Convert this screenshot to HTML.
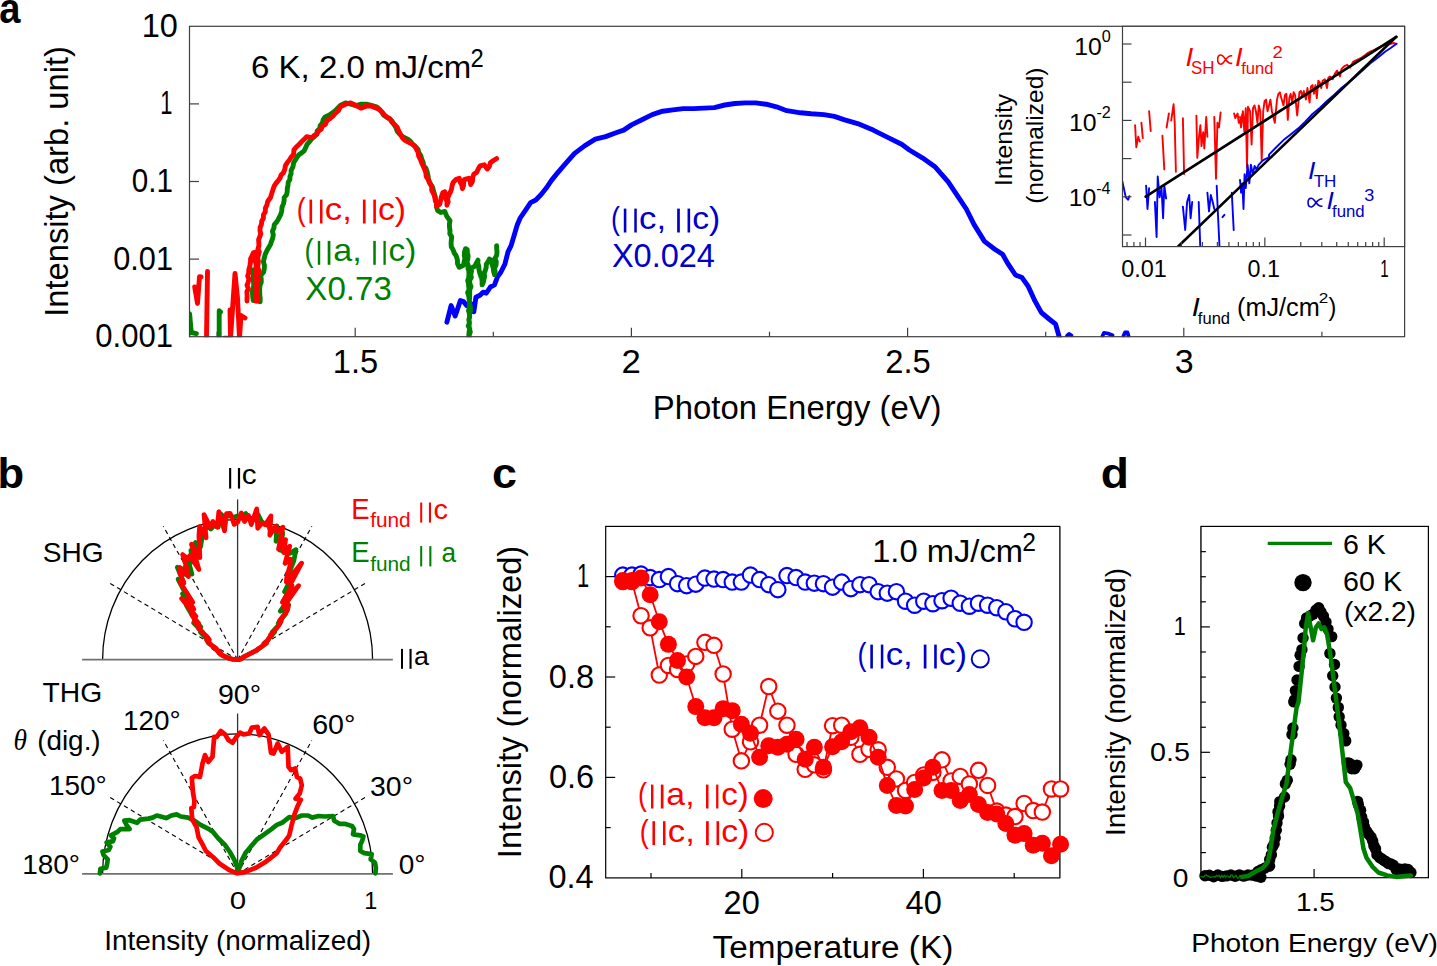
<!DOCTYPE html>
<html><head><meta charset="utf-8"><style>html,body{margin:0;padding:0;background:#fff;overflow:hidden}svg{display:block}text{font-family:"Liberation Sans", sans-serif}</style></head>
<body>
<svg width="1437" height="966" viewBox="0 0 1437 966" font-family='"Liberation Sans", sans-serif'>
<rect width="1437" height="966" fill="#fff"/>
<text x="-0.64" y="22.90" font-size="42" fill="#000" font-weight="bold" textLength="21.20" lengthAdjust="spacingAndGlyphs">a</text>
<clipPath id="ca"><rect x="189.5" y="26.3" width="1215.1" height="311.0"/></clipPath>
<g clip-path="url(#ca)">
<polyline points="194.7,287.0 197.5,303.4 199.5,276.7 201.0,277.0" fill="none" stroke="#ff0000" stroke-width="4.9" stroke-linejoin="round" stroke-linecap="round"/>
<polyline points="207.5,271.5 206.5,338.0" fill="none" stroke="#ff0000" stroke-width="4.9" stroke-linejoin="round" stroke-linecap="round"/>
<polyline points="230.0,310.0 230.5,338.0 235.0,273.5 237.5,298.0 239.5,338.0 241.0,315.5 245.0,318.0" fill="none" stroke="#ff0000" stroke-width="4.9" stroke-linejoin="round" stroke-linecap="round"/>
<polyline points="224.0,337.0 228.0,337.0" fill="none" stroke="#ff0000" stroke-width="2.5" stroke-linejoin="round" stroke-linecap="round"/>
<polyline points="187.8,338.0 189.6,313.7 191.3,332.5 196.4,333.6" fill="none" stroke="#008000" stroke-width="4.9" stroke-linejoin="round" stroke-linecap="round"/>
<polyline points="219.2,338.0 219.2,310.8 220.5,312.0" fill="none" stroke="#008000" stroke-width="4.9" stroke-linejoin="round" stroke-linecap="round"/>
<polyline points="446.9,322.2 451.1,305.6 455.2,316.0 460.4,300.5 463.5,301.5 466.6,305.6 470.7,303.6 473.8,311.8 475.9,297.3 480.0,295.3 483.1,292.2 486.3,293.2 490.4,287.0 494.5,284.9 497.6,276.6 500.7,272.5 504.9,264.2 508.0,251.8 511.1,245.6 514.2,235.2 517.3,224.8 520.2,218.0 525.4,210.3 530.6,202.6 535.8,200.0 540.9,194.8 546.1,188.3 551.3,180.6 556.5,174.1 564.2,165.1 574.6,153.4 584.9,145.6 595.3,139.2 605.6,136.6 616.0,132.7 623.7,130.1 631.5,124.9 641.9,119.8 652.2,114.6 662.6,111.2 672.9,109.9 683.3,108.6 693.6,108.6 704.0,108.1 714.3,107.6 724.7,105.0 735.0,103.5 745.4,102.9 755.7,102.9 766.1,104.2 776.4,106.8 786.8,110.7 800.7,112.8 811.1,113.8 824.0,114.6 834.3,116.4 844.7,119.8 857.6,123.6 873.2,130.1 888.7,137.9 901.6,144.3 909.4,150.0 922.3,157.8 935.3,167.1 948.2,181.9 961.2,201.3 966.3,209.0 974.1,224.6 984.5,241.4 994.8,249.2 1002.6,254.3 1007.7,263.4 1015.5,275.0 1022.0,277.6 1028.4,286.7 1034.9,300.9 1041.4,312.6 1049.1,319.0 1055.6,324.2 1059.5,338.0" fill="none" stroke="#0000ff" stroke-width="4.9" stroke-linejoin="round" stroke-linecap="round"/>
<polyline points="252.7,269.8 253.2,272.9 253.5,275.9 253.1,279.0 253.6,282.1 253.8,285.2 253.2,288.3 252.4,291.4 252.6,294.5 252.8,297.5 253.3,300.6 256.8,300.7 260.1,301.7 260.2,298.4 259.8,295.1 259.7,291.9 259.7,288.6 260.0,285.3 261.3,282.1 261.2,278.8 260.7,275.5 263.6,272.1 264.3,268.7 264.4,265.3 263.4,261.9 264.1,258.5 265.2,254.4 267.0,250.5 268.7,247.6 270.4,244.6 271.5,241.4 272.7,238.1 273.3,234.8 272.4,231.2 273.9,228.0 274.3,224.6 276.5,222.2 278.2,219.4 280.8,214.3 281.7,210.8 282.0,207.2 283.4,203.9 284.1,200.8 284.2,197.5 286.5,194.8 287.2,191.7 287.3,188.4 288.0,185.4 288.2,182.3 289.9,179.5 290.0,176.4 291.1,173.5 291.1,170.3 293.0,166.6 293.7,162.5 295.4,159.9 297.0,157.2 298.9,154.7 301.6,152.9 304.1,150.8 305.7,147.7 307.0,144.5 309.3,141.8 311.6,139.0 314.4,136.6 316.6,134.3 317.2,130.9 319.6,128.8 320.2,125.6 322.4,123.1 323.1,119.9 324.8,117.2 330.0,114.6 332.6,112.7 335.2,110.7 337.7,108.1 340.3,105.5 345.5,102.9 350.7,104.2 355.9,105.5 361.0,104.2 366.2,104.2 371.4,105.5 376.6,106.8 379.4,109.2 381.8,112.0 383.7,115.2 386.9,117.2 389.8,118.7 392.1,121.1 394.0,124.5 396.0,127.7 397.3,131.4 399.7,134.2 402.5,136.6 407.7,139.2 410.5,141.5 412.8,144.4 415.6,146.8 418.0,149.5 418.9,152.9 420.9,155.9 421.8,159.3 423.2,162.5 423.6,165.8 426.0,168.5 427.1,171.5 427.8,174.7 428.4,178.0 429.2,181.4 430.8,184.6 432.7,187.6 433.5,191.0 434.5,194.2 435.4,197.3 435.6,200.7 437.0,203.8 436.6,207.2 437.6,210.4 440.7,212.5 444.8,211.4 446.9,216.6 450.0,220.7 449.4,224.0 449.5,227.3 450.0,230.5 449.8,233.8 451.7,236.9 451.3,240.2 451.1,243.5 451.3,246.9 453.1,249.7 454.2,253.0 456.2,255.9 457.4,259.7 457.5,263.7 459.3,267.3 463.5,265.3 464.1,262.0 464.9,258.7 464.3,255.3 464.5,252.0 465.5,248.7 467.2,249.7 467.4,252.8 468.1,255.9 467.8,259.0 466.9,262.2 468.2,265.3 468.0,268.4 468.9,271.4 468.9,274.4 468.8,277.5 467.7,280.5 468.5,283.5 468.7,286.5 469.1,289.6 467.6,292.6 468.6,295.6 469.1,298.7 469.4,301.7 469.5,304.7 469.3,307.7 468.5,310.8 469.5,313.8 469.7,316.8 469.0,319.8 469.5,322.9 468.2,325.9 469.8,328.9 469.1,331.9 468.8,335.0 469.3,338.0 469.2,335.0 470.3,332.0 469.4,328.9 469.1,325.9 469.4,322.9 468.8,319.8 469.6,316.8 469.3,313.8 470.5,310.8 470.5,307.8 470.0,304.7 469.2,301.7 469.6,298.7 469.7,295.6 469.7,292.6 469.8,289.6 471.0,286.6 469.8,283.5 469.6,280.5 471.3,277.5 470.7,274.5 471.5,271.4 470.7,268.4 474.9,266.3 476.3,263.1 478.0,260.1 477.8,263.3 478.8,266.3 479.0,269.5 479.6,272.6 480.6,275.6 481.8,278.6 482.1,281.7 482.1,284.9 483.4,282.1 484.0,279.1 484.6,276.2 484.2,273.0 485.4,270.2 486.2,267.3 486.3,264.2 488.1,261.7 489.4,259.0 492.0,261.0 492.1,264.5 493.2,267.8 493.6,271.3 494.5,274.6 495.1,271.4 494.6,268.1 496.0,265.0 496.3,261.8 494.9,258.4 496.7,255.3 497.0,252.1 496.7,248.8 496.6,245.6" fill="none" stroke="#008000" stroke-width="4.9" stroke-linejoin="round" stroke-linecap="round"/>
<polyline points="247.0,301.0 247.1,297.9 247.1,294.7 246.9,291.6 248.4,288.6 247.0,285.3 248.1,282.3 249.0,279.2 247.7,276.0 248.7,272.9 248.8,269.8 249.9,265.9 250.5,262.0 250.6,258.7 252.2,255.8 253.3,252.8 255.5,252.0 255.2,255.1 255.6,258.1 255.2,261.2 256.2,264.2 256.1,267.3 256.4,270.4 255.7,273.4 255.0,276.5 255.6,279.6 255.3,282.6 256.1,285.7 255.4,288.8 256.6,291.8 256.3,294.9 255.7,297.9 256.0,301.0 257.5,301.0 258.0,297.9 257.5,294.9 257.0,291.8 257.4,288.7 257.3,285.6 257.5,282.6 258.5,279.5 257.5,276.4 258.8,273.4 258.9,270.3 257.5,267.2 258.1,264.2 258.4,261.1 257.6,258.0 258.4,255.0 259.3,251.9 258.0,248.8 258.9,245.8 258.8,242.7 258.6,239.6 259.8,236.7 260.8,233.8 260.0,230.6 260.1,227.5 261.4,224.6 261.7,221.2 263.4,218.2 263.5,214.7 265.3,211.7 265.4,208.1 267.0,204.8 267.8,201.3 270.4,197.8 271.7,193.6 272.9,189.7 274.3,185.8 276.1,183.1 278.2,180.6 280.1,178.1 281.1,175.0 283.4,172.8 284.8,169.4 285.4,165.7 287.3,162.5 289.4,160.0 291.1,157.3 293.6,154.2 293.9,150.1 296.3,147.0 299.0,144.5 301.5,141.8 304.2,139.3 306.7,136.6 311.9,137.9 314.1,135.4 317.0,134.0 318.4,131.2 321.2,129.3 322.2,126.2 325.4,124.3 326.9,120.6 330.0,118.5 332.9,116.2 335.2,113.3 338.4,110.6 340.3,106.8 345.5,104.2 350.7,102.9 355.9,105.5 361.0,108.1 366.2,106.1 371.4,106.1 376.6,108.1 379.5,109.7 381.8,112.0 384.2,114.7 386.9,117.2 390.1,119.2 392.1,122.4 394.9,124.8 397.3,127.5 398.8,131.1 400.6,134.5 402.5,137.9 404.8,140.2 407.7,141.8 412.8,144.4 415.1,146.6 416.5,149.4 418.0,152.1 418.7,156.2 420.6,159.9 421.8,163.2 423.3,166.3 424.7,169.5 425.8,172.8 426.3,176.6 428.3,179.8 429.7,183.2 431.8,186.4 431.7,190.3 433.5,193.6 434.6,196.7 435.2,199.9 436.3,203.0 436.6,206.3 439.7,204.2 440.6,200.4 441.5,196.5 442.8,192.8 444.8,191.8 446.1,195.0 445.6,198.5 447.1,201.7 446.9,205.2 448.1,201.9 447.5,198.2 449.0,194.9 450.5,191.9 451.6,188.8 452.1,185.5 453.1,182.4 456.2,179.3 459.3,178.3 460.0,181.9 461.8,185.1 462.4,188.7 463.5,185.7 463.7,182.4 464.5,179.3 468.7,178.3 470.2,181.3 470.7,184.5 472.5,181.3 472.6,177.6 473.8,174.2 476.9,172.1 478.2,168.9 480.0,165.9 484.2,164.8 487.3,169.0 489.4,166.2 490.4,162.8 493.4,160.5 496.6,158.6" fill="none" stroke="#ff0000" stroke-width="4.9" stroke-linejoin="round" stroke-linecap="round"/>
<polyline points="1067.0,335.5 1069.0,333.8 1071.5,335.5" fill="none" stroke="#0000ff" stroke-width="3.6" stroke-linejoin="round" stroke-linecap="round"/>
<polyline points="1102.5,336.0 1104.0,332.8 1108.0,333.5 1112.5,335.2" fill="none" stroke="#0000ff" stroke-width="3.8" stroke-linejoin="round" stroke-linecap="round"/>
<polyline points="1123.5,336.0 1125.0,332.5 1127.5,332.5 1128.5,336.0" fill="none" stroke="#0000ff" stroke-width="3.8" stroke-linejoin="round" stroke-linecap="round"/>
</g>
<rect x="189.5" y="26.3" width="1215.1" height="310.4" fill="none" stroke="#404040" stroke-width="1.2"/>
<line x1="189.50" y1="103.90" x2="199.00" y2="103.90" stroke="#404040" stroke-width="1.2"/>
<line x1="189.50" y1="181.50" x2="199.00" y2="181.50" stroke="#404040" stroke-width="1.2"/>
<line x1="189.50" y1="259.10" x2="199.00" y2="259.10" stroke="#404040" stroke-width="1.2"/>
<line x1="355.20" y1="336.70" x2="355.20" y2="327.70" stroke="#404040" stroke-width="1.2"/>
<line x1="631.40" y1="336.70" x2="631.40" y2="327.70" stroke="#404040" stroke-width="1.2"/>
<line x1="907.60" y1="336.70" x2="907.60" y2="327.70" stroke="#404040" stroke-width="1.2"/>
<line x1="1183.80" y1="336.70" x2="1183.80" y2="327.70" stroke="#404040" stroke-width="1.2"/>
<line x1="217.10" y1="336.70" x2="217.10" y2="331.70" stroke="#404040" stroke-width="1.2"/>
<line x1="493.30" y1="336.70" x2="493.30" y2="331.70" stroke="#404040" stroke-width="1.2"/>
<line x1="769.50" y1="336.70" x2="769.50" y2="331.70" stroke="#404040" stroke-width="1.2"/>
<line x1="1045.70" y1="336.70" x2="1045.70" y2="331.70" stroke="#404040" stroke-width="1.2"/>
<line x1="1321.90" y1="336.70" x2="1321.90" y2="331.70" stroke="#404040" stroke-width="1.2"/>
<text x="141.77" y="36.70" font-size="32.5" fill="#000" textLength="36.11" lengthAdjust="spacingAndGlyphs">10</text>
<text x="160.36" y="114.30" font-size="32.5" fill="#000" textLength="12.16" lengthAdjust="spacingAndGlyphs">1</text>
<text x="131.72" y="191.90" font-size="32.5" fill="#000" textLength="41.17" lengthAdjust="spacingAndGlyphs">0.1</text>
<text x="113.27" y="269.50" font-size="32.5" fill="#000" textLength="59.70" lengthAdjust="spacingAndGlyphs">0.01</text>
<text x="95.36" y="347.10" font-size="32.5" fill="#000" textLength="77.67" lengthAdjust="spacingAndGlyphs">0.001</text>
<text x="332.75" y="373.40" font-size="32.5" fill="#000" textLength="45.36" lengthAdjust="spacingAndGlyphs">1.5</text>
<text x="621.46" y="373.40" font-size="32.5" fill="#000" textLength="19.31" lengthAdjust="spacingAndGlyphs">2</text>
<text x="885.26" y="373.40" font-size="32.5" fill="#000" textLength="45.55" lengthAdjust="spacingAndGlyphs">2.5</text>
<text x="1174.74" y="373.40" font-size="32.5" fill="#000" textLength="18.93" lengthAdjust="spacingAndGlyphs">3</text>
<text x="652.87" y="419.00" font-size="32.4" fill="#000" textLength="288.70" lengthAdjust="spacingAndGlyphs">Photon Energy (eV)</text>
<text x="0" y="0" transform="translate(68.10,316.84) rotate(-90)" font-size="33" fill="#000" textLength="270.75" lengthAdjust="spacingAndGlyphs">Intensity (arb. unit)</text>
<text x="251.05" y="78.00" font-size="31.8" fill="#000" textLength="220.11" lengthAdjust="spacingAndGlyphs">6 K, 2.0 mJ/cm</text>
<text x="470.41" y="67.10" font-size="25.5" fill="#000" textLength="13.20" lengthAdjust="spacingAndGlyphs">2</text>
<text x="296.79" y="220.00" font-size="31.8" fill="#ff0000" textLength="8.92" lengthAdjust="spacingAndGlyphs">(</text>
<rect x="309.50" y="199.60" width="2.60" height="23.90" fill="#ff0000"/>
<rect x="320.00" y="199.60" width="2.50" height="23.90" fill="#ff0000"/>
<text x="324.84" y="220.00" font-size="31.8" fill="#ff0000" textLength="27.01" lengthAdjust="spacingAndGlyphs">c,</text>
<rect x="362.90" y="199.60" width="2.70" height="23.90" fill="#ff0000"/>
<rect x="373.30" y="199.60" width="2.60" height="23.90" fill="#ff0000"/>
<text x="377.99" y="220.00" font-size="31.8" fill="#ff0000" textLength="28.04" lengthAdjust="spacingAndGlyphs">c)</text>
<text x="304.58" y="261.30" font-size="31.8" fill="#008000" textLength="9.00" lengthAdjust="spacingAndGlyphs">(</text>
<rect x="317.80" y="240.90" width="2.42" height="23.90" fill="#008000"/>
<rect x="327.68" y="240.90" width="2.72" height="23.90" fill="#008000"/>
<text x="333.30" y="261.30" font-size="31.8" fill="#008000" textLength="28.47" lengthAdjust="spacingAndGlyphs">a,</text>
<rect x="373.26" y="240.90" width="2.52" height="23.90" fill="#008000"/>
<rect x="383.44" y="240.90" width="2.32" height="23.90" fill="#008000"/>
<text x="388.60" y="261.30" font-size="31.8" fill="#008000" textLength="27.69" lengthAdjust="spacingAndGlyphs">c)</text>
<text x="305.37" y="300.20" font-size="32.5" fill="#008000" textLength="86.53" lengthAdjust="spacingAndGlyphs">X0.73</text>
<text x="611.09" y="229.00" font-size="31.8" fill="#0000c8" textLength="8.91" lengthAdjust="spacingAndGlyphs">(</text>
<rect x="623.79" y="208.60" width="2.60" height="23.90" fill="#0000c8"/>
<rect x="634.28" y="208.60" width="2.50" height="23.90" fill="#0000c8"/>
<text x="639.11" y="229.00" font-size="31.8" fill="#0000c8" textLength="26.99" lengthAdjust="spacingAndGlyphs">c,</text>
<rect x="677.14" y="208.60" width="2.70" height="23.90" fill="#0000c8"/>
<rect x="687.53" y="208.60" width="2.60" height="23.90" fill="#0000c8"/>
<text x="692.21" y="229.00" font-size="31.8" fill="#0000c8" textLength="28.01" lengthAdjust="spacingAndGlyphs">c)</text>
<text x="611.89" y="267.40" font-size="32.5" fill="#0000c8" textLength="103.07" lengthAdjust="spacingAndGlyphs">X0.024</text>
<rect x="1122.5" y="26.3" width="282.0999999999999" height="220.29999999999998" fill="#fff" stroke="none"/>
<clipPath id="ci"><rect x="1122.5" y="26.3" width="282.0999999999999" height="220.29999999999998"/></clipPath>
<g clip-path="url(#ci)">
<polyline points="1135.1,125.2 1136.3,147.3 1138.2,136.8 1139.8,141.5" fill="none" stroke="#ff0000" stroke-width="1.9" stroke-linejoin="round" stroke-linecap="round"/>
<polyline points="1141.4,122.8 1142.8,138.0" fill="none" stroke="#ff0000" stroke-width="1.9" stroke-linejoin="round" stroke-linecap="round"/>
<polyline points="1149.1,111.2 1150.7,131.0" fill="none" stroke="#ff0000" stroke-width="1.9" stroke-linejoin="round" stroke-linecap="round"/>
<polyline points="1162.4,135.6 1164.3,169.4" fill="none" stroke="#ff0000" stroke-width="1.9" stroke-linejoin="round" stroke-linecap="round"/>
<polyline points="1166.6,127.5 1168.9,113.5" fill="none" stroke="#ff0000" stroke-width="1.9" stroke-linejoin="round" stroke-linecap="round"/>
<polyline points="1171.2,120.5 1173.6,104.2 1174.7,122.8 1175.9,171.8" fill="none" stroke="#ff0000" stroke-width="1.9" stroke-linejoin="round" stroke-linecap="round"/>
<polyline points="1182.9,118.2 1184.1,174.1" fill="none" stroke="#ff0000" stroke-width="1.9" stroke-linejoin="round" stroke-linecap="round"/>
<polyline points="1196.4,115.8 1197.3,157.8 1199.2,134.5 1200.4,125.2 1201.5,146.1 1203.2,132.2 1204.3,148.5 1206.2,117.0 1207.4,136.8" fill="none" stroke="#ff0000" stroke-width="1.9" stroke-linejoin="round" stroke-linecap="round"/>
<polyline points="1214.3,117.0 1216.0,178.7 1217.4,122.8 1219.0,127.5 1220.6,112.4" fill="none" stroke="#ff0000" stroke-width="1.9" stroke-linejoin="round" stroke-linecap="round"/>
<polyline points="1234.1,113.5 1235.3,118.2 1237.6,113.5 1238.8,122.8 1240.0,120.5 1241.1,127.5 1242.3,114.7" fill="none" stroke="#ff0000" stroke-width="1.9" stroke-linejoin="round" stroke-linecap="round"/>
<polyline points="1240.0,117.0 1241.4,122.8 1242.9,111.2 1244.3,131.4 1245.8,108.3 1247.0,167.7 1248.0,106.8 1250.1,111.2 1251.6,144.5 1253.0,108.3 1254.5,105.4 1255.9,111.2 1257.4,122.8 1258.8,105.4 1260.3,111.2 1261.7,160.4 1263.2,111.2 1264.6,101.0 1266.1,99.6 1267.5,111.2 1269.0,105.4 1270.4,99.6 1271.9,111.2 1274.8,122.8 1277.0,99.6 1278.4,93.8 1279.9,92.3 1281.3,98.1 1283.5,105.4 1284.9,95.2 1286.4,93.8 1287.8,119.9 1289.3,98.1 1290.7,93.8 1292.2,102.5 1293.6,92.3 1295.1,95.2 1297.2,115.5 1299.4,92.3 1300.9,90.9 1302.3,96.7 1303.8,90.9 1305.9,99.6 1307.4,88.0 1309.6,102.5 1311.0,86.5 1312.5,85.1 1313.9,93.8 1315.4,85.1 1316.8,98.1 1318.3,80.7 1319.7,82.2 1321.2,88.0 1322.6,80.7 1324.8,79.3 1327.0,88.0 1328.4,77.8 1329.9,76.4 1332.8,79.3 1334.9,73.5 1337.1,70.6 1340.0,76.4 1341.4,69.1 1344.3,66.2 1347.2,64.8 1350.1,67.7 1353.0,61.9 1355.9,60.4 1358.8,59.0 1361.7,57.5 1364.6,55.4 1367.5,53.2 1370.4,51.7 1373.3,50.3 1376.2,48.8 1379.1,47.4 1382.0,45.9 1384.9,45.2 1387.8,44.5 1390.7,43.8 1393.6,43.0 1396.5,43.8" fill="none" stroke="#ff0000" stroke-width="1.9" stroke-linejoin="round" stroke-linecap="round"/>
<polyline points="1122.3,181.1 1125.8,197.4 1128.2,199.7 1129.3,196.2" fill="none" stroke="#0000ff" stroke-width="1.9" stroke-linejoin="round" stroke-linecap="round"/>
<polyline points="1146.1,185.7 1147.5,209.0 1149.1,188.1" fill="none" stroke="#0000ff" stroke-width="1.9" stroke-linejoin="round" stroke-linecap="round"/>
<polyline points="1154.9,202.0 1156.6,237.0 1157.7,176.4 1159.6,197.4 1161.5,188.1 1163.1,218.3 1164.3,185.7 1166.1,198.5" fill="none" stroke="#0000ff" stroke-width="1.9" stroke-linejoin="round" stroke-linecap="round"/>
<polyline points="1182.9,206.7 1185.2,230.0 1187.1,202.0 1189.2,195.0 1190.6,218.3 1192.2,202.0" fill="none" stroke="#0000ff" stroke-width="1.9" stroke-linejoin="round" stroke-linecap="round"/>
<polyline points="1198.7,202.0 1200.4,250.9" fill="none" stroke="#0000ff" stroke-width="1.9" stroke-linejoin="round" stroke-linecap="round"/>
<polyline points="1207.4,192.7 1209.0,211.3 1210.8,195.0 1212.7,202.0 1214.3,209.0" fill="none" stroke="#0000ff" stroke-width="1.9" stroke-linejoin="round" stroke-linecap="round"/>
<polyline points="1216.7,185.7 1217.8,211.3 1219.7,250.9" fill="none" stroke="#0000ff" stroke-width="1.9" stroke-linejoin="round" stroke-linecap="round"/>
<polyline points="1222.5,217.2 1224.4,214.8" fill="none" stroke="#0000ff" stroke-width="1.9" stroke-linejoin="round" stroke-linecap="round"/>
<polyline points="1231.8,192.7 1233.7,230.0" fill="none" stroke="#0000ff" stroke-width="1.9" stroke-linejoin="round" stroke-linecap="round"/>
<polyline points="1240.0,179.9 1241.1,192.7 1242.3,183.4 1243.5,209.0 1244.6,174.1 1245.8,188.1 1247.6,164.8 1249.3,183.4 1250.9,164.8 1252.8,174.1 1254.6,165.9 1256.3,169.4 1258.6,164.8 1260.9,162.4 1263.3,160.1 1265.6,158.9 1267.9,157.8 1269.1,156.6 1269.0,154.6 1276.0,147.5 1283.5,140.1 1290.0,134.9 1298.0,128.6 1305.0,121.9 1312.5,114.0 1320.0,107.8 1327.0,101.0 1334.0,94.9 1341.4,88.0 1348.5,82.4 1356.0,76.4 1363.0,70.1 1370.4,63.3 1378.0,57.6 1385.0,51.7 1391.0,47.8 1396.5,43.8" fill="none" stroke="#0000ff" stroke-width="1.9" stroke-linejoin="round" stroke-linecap="round"/>
<line x1="1145.70" y1="196.70" x2="1396.30" y2="36.80" stroke="#000" stroke-width="2.6" stroke-linecap="round"/>
<line x1="1177.10" y1="247.50" x2="1396.30" y2="36.80" stroke="#000" stroke-width="2.6" stroke-linecap="round"/>
</g>
<rect x="1122.5" y="26.3" width="282.0999999999999" height="220.29999999999998" fill="none" stroke="#404040" stroke-width="1.2"/>
<line x1="1122.50" y1="44.00" x2="1131.50" y2="44.00" stroke="#404040" stroke-width="1.2"/>
<line x1="1122.50" y1="82.20" x2="1131.50" y2="82.20" stroke="#404040" stroke-width="1.2"/>
<line x1="1122.50" y1="120.40" x2="1131.50" y2="120.40" stroke="#404040" stroke-width="1.2"/>
<line x1="1122.50" y1="158.60" x2="1131.50" y2="158.60" stroke="#404040" stroke-width="1.2"/>
<line x1="1122.50" y1="196.80" x2="1131.50" y2="196.80" stroke="#404040" stroke-width="1.2"/>
<line x1="1122.50" y1="235.00" x2="1131.50" y2="235.00" stroke="#404040" stroke-width="1.2"/>
<line x1="1145.50" y1="246.60" x2="1145.50" y2="237.60" stroke="#404040" stroke-width="1.2"/>
<line x1="1264.85" y1="246.60" x2="1264.85" y2="237.60" stroke="#404040" stroke-width="1.2"/>
<line x1="1384.20" y1="246.60" x2="1384.20" y2="237.60" stroke="#404040" stroke-width="1.2"/>
<line x1="1127.01" y1="246.60" x2="1127.01" y2="242.00" stroke="#404040" stroke-width="1.2"/>
<line x1="1133.93" y1="246.60" x2="1133.93" y2="242.00" stroke="#404040" stroke-width="1.2"/>
<line x1="1140.04" y1="246.60" x2="1140.04" y2="242.00" stroke="#404040" stroke-width="1.2"/>
<line x1="1181.43" y1="246.60" x2="1181.43" y2="242.00" stroke="#404040" stroke-width="1.2"/>
<line x1="1202.44" y1="246.60" x2="1202.44" y2="242.00" stroke="#404040" stroke-width="1.2"/>
<line x1="1217.36" y1="246.60" x2="1217.36" y2="242.00" stroke="#404040" stroke-width="1.2"/>
<line x1="1228.92" y1="246.60" x2="1228.92" y2="242.00" stroke="#404040" stroke-width="1.2"/>
<line x1="1238.37" y1="246.60" x2="1238.37" y2="242.00" stroke="#404040" stroke-width="1.2"/>
<line x1="1246.36" y1="246.60" x2="1246.36" y2="242.00" stroke="#404040" stroke-width="1.2"/>
<line x1="1253.28" y1="246.60" x2="1253.28" y2="242.00" stroke="#404040" stroke-width="1.2"/>
<line x1="1259.39" y1="246.60" x2="1259.39" y2="242.00" stroke="#404040" stroke-width="1.2"/>
<line x1="1300.78" y1="246.60" x2="1300.78" y2="242.00" stroke="#404040" stroke-width="1.2"/>
<line x1="1321.79" y1="246.60" x2="1321.79" y2="242.00" stroke="#404040" stroke-width="1.2"/>
<line x1="1336.71" y1="246.60" x2="1336.71" y2="242.00" stroke="#404040" stroke-width="1.2"/>
<line x1="1348.27" y1="246.60" x2="1348.27" y2="242.00" stroke="#404040" stroke-width="1.2"/>
<line x1="1357.72" y1="246.60" x2="1357.72" y2="242.00" stroke="#404040" stroke-width="1.2"/>
<line x1="1365.71" y1="246.60" x2="1365.71" y2="242.00" stroke="#404040" stroke-width="1.2"/>
<line x1="1372.63" y1="246.60" x2="1372.63" y2="242.00" stroke="#404040" stroke-width="1.2"/>
<line x1="1378.74" y1="246.60" x2="1378.74" y2="242.00" stroke="#404040" stroke-width="1.2"/>
<text x="1101.76" y="42.20" font-size="16.2">0</text>
<text x="1074.27" y="54.80" font-size="24.8">10</text>
<text x="1096.49" y="118.00" font-size="16.2">-2</text>
<text x="1069.09" y="130.60" font-size="24.8">10</text>
<text x="1096.17" y="193.60" font-size="16.2">-4</text>
<text x="1068.76" y="206.20" font-size="24.8">10</text>
<text x="1121.16" y="276.80" font-size="24.5" fill="#000" textLength="45.64" lengthAdjust="spacingAndGlyphs">0.01</text>
<text x="1247.47" y="276.80" font-size="24.5" fill="#000" textLength="32.40" lengthAdjust="spacingAndGlyphs">0.1</text>
<text x="1380.37" y="276.80" font-size="24.5" fill="#000" textLength="8.41" lengthAdjust="spacingAndGlyphs">1</text>
<text x="1191.84" y="315.60" font-size="24.9" fill="#000" font-style="italic" textLength="8.03" lengthAdjust="spacingAndGlyphs">I</text>
<text x="1197.85" y="324.00" font-size="17" fill="#000" textLength="32.25" lengthAdjust="spacingAndGlyphs">fund</text>
<text x="1236.98" y="315.60" font-size="24.9" fill="#000" textLength="82.81" lengthAdjust="spacingAndGlyphs">(mJ/cm</text>
<text x="1318.84" y="302.80" font-size="15" fill="#000" textLength="9.53" lengthAdjust="spacingAndGlyphs">2</text>
<text x="1328.47" y="315.60" font-size="24.9" fill="#000" textLength="7.81" lengthAdjust="spacingAndGlyphs">)</text>
<text x="0" y="0" transform="translate(1012.30,186.03) rotate(-90)" font-size="23.6" fill="#000" textLength="92.23" lengthAdjust="spacingAndGlyphs">Intensity</text>
<text x="0" y="0" transform="translate(1043.00,203.87) rotate(-90)" font-size="23.6" fill="#000" textLength="136.40" lengthAdjust="spacingAndGlyphs">(normalized)</text>
<text x="1185.58" y="65.90" font-size="25.7" fill="#ff0000" font-style="italic" textLength="7.78" lengthAdjust="spacingAndGlyphs">I</text>
<text x="1190.94" y="74.20" font-size="17.5" fill="#ff0000" textLength="23.48" lengthAdjust="spacingAndGlyphs">SH</text>
<path d="M1232.20,55.92 C1226.46,54.26 1224.95,64.20 1220.72,64.20 C1216.65,64.20 1216.65,55.00 1220.72,55.00 C1224.95,55.00 1226.46,64.94 1232.20,63.28" fill="none" stroke="#ff0000" stroke-width="1.6"/>
<text x="1234.90" y="65.90" font-size="25.7" fill="#ff0000" font-style="italic" textLength="7.66" lengthAdjust="spacingAndGlyphs">I</text>
<text x="1241.15" y="74.20" font-size="17" fill="#ff0000" textLength="32.25" lengthAdjust="spacingAndGlyphs">fund</text>
<text x="1272.58" y="57.50" font-size="16.3" fill="#ff0000" textLength="10.27" lengthAdjust="spacingAndGlyphs">2</text>
<text x="1308.03" y="178.60" font-size="24.4" fill="#0000c8" font-style="italic" textLength="7.41" lengthAdjust="spacingAndGlyphs">I</text>
<text x="1313.67" y="187.00" font-size="16.5" fill="#0000c8" textLength="22.74" lengthAdjust="spacingAndGlyphs">TH</text>
<path d="M1322.40,199.08 C1316.74,197.50 1315.25,207.00 1311.08,207.00 C1307.05,207.00 1307.05,198.20 1311.08,198.20 C1315.25,198.20 1316.74,207.70 1322.40,206.12" fill="none" stroke="#0000c8" stroke-width="1.6"/>
<text x="1326.53" y="208.80" font-size="24.4" fill="#0000c8" font-style="italic" textLength="7.41" lengthAdjust="spacingAndGlyphs">I</text>
<text x="1332.05" y="216.90" font-size="16.5" fill="#0000c8" textLength="32.66" lengthAdjust="spacingAndGlyphs">fund</text>
<text x="1364.18" y="201.10" font-size="17" fill="#0000c8" textLength="10.06" lengthAdjust="spacingAndGlyphs">3</text>
<text x="-2.53" y="488.40" font-size="42" fill="#000" font-weight="bold" textLength="26.61" lengthAdjust="spacingAndGlyphs">b</text>
<path d="M102.60,659.70 A135.0,140.0 0 0 1 372.60,659.70" fill="none" stroke="#000" stroke-width="1.3"/>
<line x1="237.60" y1="659.70" x2="366.20" y2="582.70" stroke="#000" stroke-width="1.1" stroke-dasharray="4.5,3.5"/>
<line x1="237.60" y1="659.70" x2="311.85" y2="526.33" stroke="#000" stroke-width="1.1" stroke-dasharray="4.5,3.5"/>
<line x1="237.60" y1="659.70" x2="163.35" y2="526.33" stroke="#000" stroke-width="1.1" stroke-dasharray="4.5,3.5"/>
<line x1="237.60" y1="659.70" x2="109.00" y2="582.70" stroke="#000" stroke-width="1.1" stroke-dasharray="4.5,3.5"/>
<line x1="237.60" y1="659.70" x2="237.60" y2="499.40" stroke="#333" stroke-width="1.3"/>
<line x1="82.10" y1="659.70" x2="392.90" y2="659.70" stroke="#707070" stroke-width="1.8"/>
<path d="M102.60,873.80 A135.0,140.0 0 0 1 372.60,873.80" fill="none" stroke="#000" stroke-width="1.3"/>
<line x1="237.60" y1="873.80" x2="366.20" y2="796.80" stroke="#000" stroke-width="1.1" stroke-dasharray="4.5,3.5"/>
<line x1="237.60" y1="873.80" x2="311.85" y2="740.43" stroke="#000" stroke-width="1.1" stroke-dasharray="4.5,3.5"/>
<line x1="237.60" y1="873.80" x2="163.35" y2="740.43" stroke="#000" stroke-width="1.1" stroke-dasharray="4.5,3.5"/>
<line x1="237.60" y1="873.80" x2="109.00" y2="796.80" stroke="#000" stroke-width="1.1" stroke-dasharray="4.5,3.5"/>
<line x1="237.60" y1="873.80" x2="237.60" y2="713.50" stroke="#333" stroke-width="1.3"/>
<line x1="82.10" y1="873.80" x2="392.90" y2="873.80" stroke="#707070" stroke-width="1.8"/>
<polyline points="237.6,659.7 238.1,659.7 238.5,659.6 239.0,659.6 239.2,659.5 240.0,659.3 240.3,659.2 241.1,658.9 240.8,658.9 241.5,658.6 242.0,658.3 242.7,657.9 243.0,657.6 243.7,657.1 243.2,657.1 256.6,650.3 261.6,646.9 263.7,644.8 263.7,643.7 268.1,639.7 269.4,637.5 274.5,632.2 272.0,632.4 278.5,625.2 278.2,623.3 285.6,614.0 284.7,612.2 288.6,605.1 280.3,611.2 292.8,593.1 283.0,601.6 292.0,585.6 284.5,591.8 294.2,572.3 287.2,577.9 293.8,560.8 296.0,549.6 290.1,553.3 286.6,552.8 283.6,551.0 280.2,550.3 282.8,533.0 276.0,541.3 276.8,525.9 271.1,532.0 268.6,525.8 264.9,524.1 261.4,521.3 258.2,514.7 253.7,517.7 249.4,519.5 245.7,513.5 241.4,517.0 237.4,516.1 233.3,517.2 229.1,515.1 225.2,517.9 220.6,513.8 218.3,527.2 214.1,525.7 210.8,529.0 206.1,525.9 204.0,533.1 201.8,539.2 200.6,547.0 195.4,542.5 196.5,555.3 190.9,550.4 192.5,562.0 188.4,560.9 191.9,574.2 184.7,567.4 185.5,574.5 177.3,567.3 183.3,581.6 178.1,579.3 185.3,593.1 182.5,593.7 190.1,606.2 186.2,605.1 190.4,612.4 194.2,618.7 200.8,627.0 193.6,622.9 202.6,632.2 200.4,632.2 205.6,637.5 208.2,640.6 207.4,641.3 208.4,643.1 215.0,647.8 213.5,647.9 217.4,650.6 218.0,651.5 220.2,653.1 219.6,653.4 221.9,654.8 222.5,655.5 225.7,656.8 225.4,657.1 229.0,658.1 229.1,658.4 231.3,658.9 232.8,659.3 235.0,659.5 236.2,659.7" fill="none" stroke="#008000" stroke-width="4.7" stroke-linejoin="round" stroke-linecap="round"/>
<polyline points="237.6,659.7 238.0,659.7 238.4,659.7 238.7,659.6 239.1,659.5 239.4,659.4 240.0,659.3 240.6,659.1 240.9,659.0 241.2,658.8 241.4,658.6 242.0,658.3 241.8,658.3 242.9,657.8 242.2,657.9 243.4,657.2 243.5,657.0 257.0,650.1 257.6,649.2 266.5,643.4 263.8,644.0 268.1,640.3 268.3,639.1 271.9,635.2 270.4,635.0 275.6,629.5 279.4,624.6 281.2,621.1 279.6,620.5 287.3,610.8 288.2,607.2 288.2,604.4 283.5,606.9 298.6,585.7 282.4,602.4 291.4,586.9 290.5,584.2 301.6,563.1 286.3,581.9 286.9,576.2 290.1,565.3 290.3,559.1 285.0,563.3 289.8,546.2 283.6,552.5 285.6,539.6 278.5,549.2 282.9,527.1 277.9,531.2 275.7,526.3 269.8,535.1 270.9,515.9 265.2,524.8 262.1,522.9 257.7,528.2 256.7,508.9 251.3,524.6 248.5,515.5 244.6,521.6 241.3,512.9 237.6,522.3 234.2,524.4 230.2,513.3 226.5,513.6 224.5,530.9 218.8,511.7 217.3,527.1 212.9,521.4 210.5,527.4 204.0,514.6 206.1,537.9 199.6,526.5 198.9,536.2 199.5,548.2 199.9,557.7 191.5,544.3 198.9,569.5 189.7,555.6 188.1,559.0 182.6,554.6 187.1,569.0 188.5,576.6 179.8,567.4 179.6,572.3 183.9,583.1 179.5,581.2 192.8,602.3 188.2,599.7 193.8,609.2 181.6,598.5 195.8,616.3 191.9,614.8 198.5,623.2 194.3,621.3 200.0,628.1 198.7,628.8 207.3,636.9 209.3,639.6 207.8,639.6 206.5,639.9 209.7,643.0 211.2,644.8 216.2,648.4 213.6,647.8 219.3,651.3 217.7,651.2 220.7,653.0 218.7,652.8 219.9,653.7 221.0,654.6 223.5,655.8 224.3,656.4 226.8,657.3 227.6,657.8 229.7,658.4 231.2,658.8 232.6,659.2 233.4,659.4 234.7,659.5 236.0,659.7 237.6,659.7" fill="none" stroke="#ff0000" stroke-width="4.7" stroke-linejoin="round" stroke-linecap="round"/>
<polyline points="99.9,873.4 100.4,868.7 106.2,867.7 107.2,863.5 107.7,859.3 103.6,855.2 102.5,851.5 108.8,850.0 110.4,846.8 106.7,842.6 113.0,841.1 114.0,838.5 110.9,835.3 117.1,832.2 120.3,829.1 129.7,829.1 126.5,824.9 124.4,820.7 129.7,820.2 137.0,822.8 140.1,819.7 148.5,818.6 152.6,817.6 156.8,815.5 166.2,818.1 171.4,815.5 176.6,814.4 180.8,816.5 188.1,817.6 194.4,820.7 200.6,824.9 209.0,829.1 213.2,832.2 218.4,838.5 224.7,844.7 229.9,852.0 234.1,859.3 237.2,867.7 238.0,872.4 241.3,861.4 245.4,853.1 250.7,846.8 256.9,839.5 264.2,834.3 271.5,829.1 276.8,824.9 282.0,822.8 289.3,817.1 295.5,818.1 301.8,815.5 308.1,815.5 312.2,817.6 318.5,816.0 324.8,816.5 333.1,816.0 334.2,820.7 339.4,823.8 344.6,823.8 351.9,825.9 354.0,829.1 353.0,834.3 360.3,835.3 363.4,836.4 362.3,840.5 360.3,844.7 360.3,851.0 364.4,853.1 371.7,854.1 370.7,859.3 374.9,862.5 375.9,867.7 375.4,873.4" fill="none" stroke="#008000" stroke-width="4.7" stroke-linejoin="round" stroke-linecap="round"/>
<polyline points="237.1,873.4 245.4,871.9 255.9,867.7 266.3,861.4 276.8,853.1 279.9,847.8 287.2,838.5 289.3,835.3 291.4,825.9 294.5,814.4 297.6,806.1 300.8,799.8 295.5,798.8 299.7,793.6 301.8,785.2 300.2,778.6 296.9,776.9 295.2,768.5 291.0,770.2 288.5,766.9 287.7,746.8 281.8,751.8 277.7,743.5 273.5,753.5 271.0,752.7 268.5,734.3 264.3,728.5 259.3,735.1 257.6,726.8 251.8,727.6 249.3,733.5 243.4,734.3 240.1,732.6 235.9,737.6 232.6,742.7 228.4,740.1 225.0,734.3 220.9,731.0 216.7,736.8 214.2,736.8 212.5,756.8 208.4,761.9 205.0,755.2 202.5,763.5 200.0,776.9 195.0,776.0 191.8,778.0 193.0,792.5 194.4,800.9 193.9,807.1 191.3,808.2 192.3,819.7 196.5,827.0 198.6,837.4 202.7,844.7 205.9,851.0 213.2,857.2 219.4,863.5 228.8,869.8 237.2,873.4" fill="none" stroke="#ff0000" stroke-width="4.7" stroke-linejoin="round" stroke-linecap="round"/>
<rect x="229.10" y="468.00" width="2.10" height="20.60" fill="#000"/>
<rect x="237.90" y="468.00" width="2.20" height="20.60" fill="#000"/>
<text x="241.86" y="484.30" font-size="27.5" fill="#000" textLength="14.88" lengthAdjust="spacingAndGlyphs">c</text>
<text x="351.20" y="519.20" font-size="29" fill="#ff0000" textLength="18.36" lengthAdjust="spacingAndGlyphs">E</text>
<text x="370.19" y="527.10" font-size="20.8" fill="#ff0000" textLength="40.49" lengthAdjust="spacingAndGlyphs">fund</text>
<rect x="420.20" y="502.50" width="2.00" height="20.10" fill="#ff0000"/>
<rect x="428.90" y="502.50" width="2.10" height="20.10" fill="#ff0000"/>
<text x="433.49" y="519.00" font-size="27.5" fill="#ff0000" textLength="14.53" lengthAdjust="spacingAndGlyphs">c</text>
<text x="351.20" y="562.20" font-size="29" fill="#008000" textLength="18.36" lengthAdjust="spacingAndGlyphs">E</text>
<text x="370.19" y="570.50" font-size="20.8" fill="#008000" textLength="40.49" lengthAdjust="spacingAndGlyphs">fund</text>
<rect x="420.20" y="546.10" width="2.00" height="20.30" fill="#008000"/>
<rect x="429.30" y="546.10" width="2.10" height="20.30" fill="#008000"/>
<text x="441.52" y="562.00" font-size="27.5" fill="#008000" textLength="14.61" lengthAdjust="spacingAndGlyphs">a</text>
<text x="42.74" y="561.70" font-size="28.5" fill="#000" textLength="60.89" lengthAdjust="spacingAndGlyphs">SHG</text>
<rect x="401.00" y="648.90" width="2.00" height="19.90" fill="#000"/>
<rect x="409.50" y="648.90" width="2.10" height="19.90" fill="#000"/>
<text x="413.99" y="664.50" font-size="26.5" fill="#000" textLength="14.94" lengthAdjust="spacingAndGlyphs">a</text>
<text x="42.49" y="701.90" font-size="28" fill="#000" textLength="59.71" lengthAdjust="spacingAndGlyphs">THG</text>
<text x="217.92" y="703.80" font-size="28.5" fill="#000" textLength="43.16" lengthAdjust="spacingAndGlyphs">90°</text>
<text x="123.11" y="730.10" font-size="28" fill="#000" textLength="57.62" lengthAdjust="spacingAndGlyphs">120°</text>
<text x="312.17" y="733.50" font-size="28.5" fill="#000" textLength="43.32" lengthAdjust="spacingAndGlyphs">60°</text>
<text x="13.5" y="750" style="font-family:'Liberation Serif', serif" font-style="italic" font-size="30" textLength="13.5" lengthAdjust="spacingAndGlyphs">θ</text>
<text x="37.13" y="749.80" font-size="28" fill="#000" textLength="63.54" lengthAdjust="spacingAndGlyphs">(dig.)</text>
<text x="48.90" y="794.50" font-size="28" fill="#000" textLength="57.83" lengthAdjust="spacingAndGlyphs">150°</text>
<text x="370.06" y="795.80" font-size="28.5" fill="#000" textLength="43.01" lengthAdjust="spacingAndGlyphs">30°</text>
<text x="22.20" y="874.20" font-size="28" fill="#000" textLength="57.83" lengthAdjust="spacingAndGlyphs">180°</text>
<text x="398.68" y="874.20" font-size="28" fill="#000">0°</text>
<text x="229.72" y="908.60" font-size="24.5" fill="#000" textLength="16.39" lengthAdjust="spacingAndGlyphs">0</text>
<text x="364.34" y="908.60" font-size="24.5" fill="#000" textLength="13.06" lengthAdjust="spacingAndGlyphs">1</text>
<text x="104.19" y="949.50" font-size="27" fill="#000" textLength="266.91" lengthAdjust="spacingAndGlyphs">Intensity (normalized)</text>
<text x="492.01" y="488.40" font-size="42" fill="#000" font-weight="bold" textLength="24.88" lengthAdjust="spacingAndGlyphs">c</text>
<rect x="605.7" y="526.4" width="454.0999999999999" height="351.5" fill="none" stroke="#000" stroke-width="1.2"/>
<line x1="1059.80" y1="527.00" x2="1059.80" y2="877.30" stroke="#404040" stroke-width="1.2"/>
<line x1="605.70" y1="576.60" x2="615.20" y2="576.60" stroke="#000" stroke-width="1.2"/>
<line x1="605.70" y1="677.00" x2="615.20" y2="677.00" stroke="#000" stroke-width="1.2"/>
<line x1="605.70" y1="777.40" x2="615.20" y2="777.40" stroke="#000" stroke-width="1.2"/>
<line x1="605.70" y1="626.80" x2="610.70" y2="626.80" stroke="#000" stroke-width="1.2"/>
<line x1="605.70" y1="727.20" x2="610.70" y2="727.20" stroke="#000" stroke-width="1.2"/>
<line x1="605.70" y1="827.60" x2="610.70" y2="827.60" stroke="#000" stroke-width="1.2"/>
<line x1="741.80" y1="877.90" x2="741.80" y2="868.90" stroke="#000" stroke-width="1.2"/>
<line x1="923.40" y1="877.90" x2="923.40" y2="868.90" stroke="#000" stroke-width="1.2"/>
<line x1="651.00" y1="877.90" x2="651.00" y2="872.90" stroke="#000" stroke-width="1.2"/>
<line x1="832.60" y1="877.90" x2="832.60" y2="872.90" stroke="#000" stroke-width="1.2"/>
<line x1="1014.20" y1="877.90" x2="1014.20" y2="872.90" stroke="#000" stroke-width="1.2"/>
<text x="576.96" y="587.00" font-size="32.5" fill="#000" textLength="12.16" lengthAdjust="spacingAndGlyphs">1</text>
<text x="548.83" y="687.60" font-size="32.5" fill="#000">0.8</text>
<text x="548.99" y="788.00" font-size="32.5" fill="#000">0.6</text>
<text x="548.50" y="888.40" font-size="32.5" fill="#000">0.4</text>
<text x="723.60" y="914.20" font-size="32.5" fill="#000">20</text>
<text x="905.61" y="914.20" font-size="32.5" fill="#000">40</text>
<text x="712.57" y="957.70" font-size="31" fill="#000" textLength="240.70" lengthAdjust="spacingAndGlyphs">Temperature (K)</text>
<text x="0" y="0" transform="translate(521.10,858.14) rotate(-90)" font-size="32.5" fill="#000" textLength="312.34" lengthAdjust="spacingAndGlyphs">Intensity (normalized)</text>
<text x="872.15" y="562.00" font-size="32" fill="#000" textLength="150.84" lengthAdjust="spacingAndGlyphs">1.0 mJ/cm</text>
<text x="1022.27" y="550.90" font-size="25" fill="#000" textLength="13.69" lengthAdjust="spacingAndGlyphs">2</text>
<circle cx="622.80" cy="575.09" r="7.7" fill="#fff" stroke="#0000ff" stroke-width="2.1"/>
<circle cx="631.92" cy="575.09" r="7.7" fill="#fff" stroke="#0000ff" stroke-width="2.1"/>
<circle cx="641.04" cy="574.09" r="7.7" fill="#fff" stroke="#0000ff" stroke-width="2.1"/>
<circle cx="650.16" cy="577.60" r="7.7" fill="#fff" stroke="#0000ff" stroke-width="2.1"/>
<circle cx="659.28" cy="579.61" r="7.7" fill="#fff" stroke="#0000ff" stroke-width="2.1"/>
<circle cx="668.40" cy="576.60" r="7.7" fill="#fff" stroke="#0000ff" stroke-width="2.1"/>
<circle cx="677.52" cy="583.63" r="7.7" fill="#fff" stroke="#0000ff" stroke-width="2.1"/>
<circle cx="686.64" cy="585.64" r="7.7" fill="#fff" stroke="#0000ff" stroke-width="2.1"/>
<circle cx="695.76" cy="584.13" r="7.7" fill="#fff" stroke="#0000ff" stroke-width="2.1"/>
<circle cx="704.88" cy="578.11" r="7.7" fill="#fff" stroke="#0000ff" stroke-width="2.1"/>
<circle cx="714.00" cy="579.11" r="7.7" fill="#fff" stroke="#0000ff" stroke-width="2.1"/>
<circle cx="723.12" cy="579.61" r="7.7" fill="#fff" stroke="#0000ff" stroke-width="2.1"/>
<circle cx="732.24" cy="582.12" r="7.7" fill="#fff" stroke="#0000ff" stroke-width="2.1"/>
<circle cx="741.36" cy="582.12" r="7.7" fill="#fff" stroke="#0000ff" stroke-width="2.1"/>
<circle cx="750.48" cy="575.09" r="7.7" fill="#fff" stroke="#0000ff" stroke-width="2.1"/>
<circle cx="759.60" cy="579.61" r="7.7" fill="#fff" stroke="#0000ff" stroke-width="2.1"/>
<circle cx="768.72" cy="584.63" r="7.7" fill="#fff" stroke="#0000ff" stroke-width="2.1"/>
<circle cx="777.84" cy="589.65" r="7.7" fill="#fff" stroke="#0000ff" stroke-width="2.1"/>
<circle cx="786.96" cy="575.60" r="7.7" fill="#fff" stroke="#0000ff" stroke-width="2.1"/>
<circle cx="796.08" cy="577.60" r="7.7" fill="#fff" stroke="#0000ff" stroke-width="2.1"/>
<circle cx="805.20" cy="582.12" r="7.7" fill="#fff" stroke="#0000ff" stroke-width="2.1"/>
<circle cx="814.32" cy="583.13" r="7.7" fill="#fff" stroke="#0000ff" stroke-width="2.1"/>
<circle cx="823.44" cy="583.63" r="7.7" fill="#fff" stroke="#0000ff" stroke-width="2.1"/>
<circle cx="832.56" cy="587.14" r="7.7" fill="#fff" stroke="#0000ff" stroke-width="2.1"/>
<circle cx="841.68" cy="582.12" r="7.7" fill="#fff" stroke="#0000ff" stroke-width="2.1"/>
<circle cx="850.80" cy="588.65" r="7.7" fill="#fff" stroke="#0000ff" stroke-width="2.1"/>
<circle cx="859.92" cy="584.63" r="7.7" fill="#fff" stroke="#0000ff" stroke-width="2.1"/>
<circle cx="869.04" cy="584.63" r="7.7" fill="#fff" stroke="#0000ff" stroke-width="2.1"/>
<circle cx="878.16" cy="591.66" r="7.7" fill="#fff" stroke="#0000ff" stroke-width="2.1"/>
<circle cx="887.28" cy="593.17" r="7.7" fill="#fff" stroke="#0000ff" stroke-width="2.1"/>
<circle cx="896.40" cy="591.66" r="7.7" fill="#fff" stroke="#0000ff" stroke-width="2.1"/>
<circle cx="905.52" cy="601.20" r="7.7" fill="#fff" stroke="#0000ff" stroke-width="2.1"/>
<circle cx="914.64" cy="605.21" r="7.7" fill="#fff" stroke="#0000ff" stroke-width="2.1"/>
<circle cx="923.76" cy="601.20" r="7.7" fill="#fff" stroke="#0000ff" stroke-width="2.1"/>
<circle cx="932.88" cy="603.71" r="7.7" fill="#fff" stroke="#0000ff" stroke-width="2.1"/>
<circle cx="942.00" cy="600.70" r="7.7" fill="#fff" stroke="#0000ff" stroke-width="2.1"/>
<circle cx="951.12" cy="598.19" r="7.7" fill="#fff" stroke="#0000ff" stroke-width="2.1"/>
<circle cx="960.24" cy="603.21" r="7.7" fill="#fff" stroke="#0000ff" stroke-width="2.1"/>
<circle cx="969.36" cy="606.22" r="7.7" fill="#fff" stroke="#0000ff" stroke-width="2.1"/>
<circle cx="978.48" cy="603.21" r="7.7" fill="#fff" stroke="#0000ff" stroke-width="2.1"/>
<circle cx="987.60" cy="605.21" r="7.7" fill="#fff" stroke="#0000ff" stroke-width="2.1"/>
<circle cx="996.72" cy="607.72" r="7.7" fill="#fff" stroke="#0000ff" stroke-width="2.1"/>
<circle cx="1005.84" cy="611.74" r="7.7" fill="#fff" stroke="#0000ff" stroke-width="2.1"/>
<circle cx="1014.96" cy="618.77" r="7.7" fill="#fff" stroke="#0000ff" stroke-width="2.1"/>
<circle cx="1024.08" cy="622.28" r="7.7" fill="#fff" stroke="#0000ff" stroke-width="2.1"/>
<polyline points="622.8,581.6 631.9,581.6 641.0,615.8 650.2,627.8 659.3,675.0 668.4,665.5 677.5,669.5 686.6,663.9 695.8,656.4 704.9,642.4 714.0,645.4 723.1,674.0 732.2,729.2 741.4,760.8 750.5,741.8 759.6,725.2 768.7,686.5 777.8,711.1 787.0,725.2 796.1,754.3 805.2,769.4 814.3,764.9 823.4,769.9 832.6,725.7 841.7,725.2 850.8,737.2 859.9,754.3 869.0,749.3 878.2,749.8 887.3,767.4 896.4,778.9 905.5,790.5 914.6,782.4 923.8,774.9 932.9,772.4 942.0,759.8 951.1,780.9 960.2,776.4 969.4,783.9 978.5,770.4 987.6,785.4 996.7,811.0 1005.8,815.0 1015.0,816.6 1024.1,803.5 1033.2,810.5 1042.3,812.0 1051.4,788.9 1060.6,788.9" fill="none" stroke="#ff0000" stroke-width="1.8" stroke-linejoin="round" stroke-linecap="round"/>
<circle cx="622.80" cy="581.62" r="7.7" fill="#fff" stroke="#ff0000" stroke-width="2.1"/>
<circle cx="631.92" cy="581.62" r="7.7" fill="#fff" stroke="#ff0000" stroke-width="2.1"/>
<circle cx="641.04" cy="615.76" r="7.7" fill="#fff" stroke="#ff0000" stroke-width="2.1"/>
<circle cx="650.16" cy="627.80" r="7.7" fill="#fff" stroke="#ff0000" stroke-width="2.1"/>
<circle cx="659.28" cy="674.99" r="7.7" fill="#fff" stroke="#ff0000" stroke-width="2.1"/>
<circle cx="668.40" cy="665.45" r="7.7" fill="#fff" stroke="#ff0000" stroke-width="2.1"/>
<circle cx="677.52" cy="669.47" r="7.7" fill="#fff" stroke="#ff0000" stroke-width="2.1"/>
<circle cx="686.64" cy="663.95" r="7.7" fill="#fff" stroke="#ff0000" stroke-width="2.1"/>
<circle cx="695.76" cy="656.42" r="7.7" fill="#fff" stroke="#ff0000" stroke-width="2.1"/>
<circle cx="704.88" cy="642.36" r="7.7" fill="#fff" stroke="#ff0000" stroke-width="2.1"/>
<circle cx="714.00" cy="645.37" r="7.7" fill="#fff" stroke="#ff0000" stroke-width="2.1"/>
<circle cx="723.12" cy="673.99" r="7.7" fill="#fff" stroke="#ff0000" stroke-width="2.1"/>
<circle cx="732.24" cy="729.21" r="7.7" fill="#fff" stroke="#ff0000" stroke-width="2.1"/>
<circle cx="741.36" cy="760.83" r="7.7" fill="#fff" stroke="#ff0000" stroke-width="2.1"/>
<circle cx="750.48" cy="741.76" r="7.7" fill="#fff" stroke="#ff0000" stroke-width="2.1"/>
<circle cx="759.60" cy="725.19" r="7.7" fill="#fff" stroke="#ff0000" stroke-width="2.1"/>
<circle cx="768.72" cy="686.54" r="7.7" fill="#fff" stroke="#ff0000" stroke-width="2.1"/>
<circle cx="777.84" cy="711.14" r="7.7" fill="#fff" stroke="#ff0000" stroke-width="2.1"/>
<circle cx="786.96" cy="725.19" r="7.7" fill="#fff" stroke="#ff0000" stroke-width="2.1"/>
<circle cx="796.08" cy="754.31" r="7.7" fill="#fff" stroke="#ff0000" stroke-width="2.1"/>
<circle cx="805.20" cy="769.37" r="7.7" fill="#fff" stroke="#ff0000" stroke-width="2.1"/>
<circle cx="814.32" cy="764.85" r="7.7" fill="#fff" stroke="#ff0000" stroke-width="2.1"/>
<circle cx="823.44" cy="769.87" r="7.7" fill="#fff" stroke="#ff0000" stroke-width="2.1"/>
<circle cx="832.56" cy="725.69" r="7.7" fill="#fff" stroke="#ff0000" stroke-width="2.1"/>
<circle cx="841.68" cy="725.19" r="7.7" fill="#fff" stroke="#ff0000" stroke-width="2.1"/>
<circle cx="850.80" cy="737.24" r="7.7" fill="#fff" stroke="#ff0000" stroke-width="2.1"/>
<circle cx="859.92" cy="754.31" r="7.7" fill="#fff" stroke="#ff0000" stroke-width="2.1"/>
<circle cx="869.04" cy="749.29" r="7.7" fill="#fff" stroke="#ff0000" stroke-width="2.1"/>
<circle cx="878.16" cy="749.79" r="7.7" fill="#fff" stroke="#ff0000" stroke-width="2.1"/>
<circle cx="887.28" cy="767.36" r="7.7" fill="#fff" stroke="#ff0000" stroke-width="2.1"/>
<circle cx="896.40" cy="778.91" r="7.7" fill="#fff" stroke="#ff0000" stroke-width="2.1"/>
<circle cx="905.52" cy="790.45" r="7.7" fill="#fff" stroke="#ff0000" stroke-width="2.1"/>
<circle cx="914.64" cy="782.42" r="7.7" fill="#fff" stroke="#ff0000" stroke-width="2.1"/>
<circle cx="923.76" cy="774.89" r="7.7" fill="#fff" stroke="#ff0000" stroke-width="2.1"/>
<circle cx="932.88" cy="772.38" r="7.7" fill="#fff" stroke="#ff0000" stroke-width="2.1"/>
<circle cx="942.00" cy="759.83" r="7.7" fill="#fff" stroke="#ff0000" stroke-width="2.1"/>
<circle cx="951.12" cy="780.91" r="7.7" fill="#fff" stroke="#ff0000" stroke-width="2.1"/>
<circle cx="960.24" cy="776.40" r="7.7" fill="#fff" stroke="#ff0000" stroke-width="2.1"/>
<circle cx="969.36" cy="783.93" r="7.7" fill="#fff" stroke="#ff0000" stroke-width="2.1"/>
<circle cx="978.48" cy="770.37" r="7.7" fill="#fff" stroke="#ff0000" stroke-width="2.1"/>
<circle cx="987.60" cy="785.43" r="7.7" fill="#fff" stroke="#ff0000" stroke-width="2.1"/>
<circle cx="996.72" cy="811.03" r="7.7" fill="#fff" stroke="#ff0000" stroke-width="2.1"/>
<circle cx="1005.84" cy="815.05" r="7.7" fill="#fff" stroke="#ff0000" stroke-width="2.1"/>
<circle cx="1014.96" cy="816.56" r="7.7" fill="#fff" stroke="#ff0000" stroke-width="2.1"/>
<circle cx="1024.08" cy="803.50" r="7.7" fill="#fff" stroke="#ff0000" stroke-width="2.1"/>
<circle cx="1033.20" cy="810.53" r="7.7" fill="#fff" stroke="#ff0000" stroke-width="2.1"/>
<circle cx="1042.32" cy="812.04" r="7.7" fill="#fff" stroke="#ff0000" stroke-width="2.1"/>
<circle cx="1051.44" cy="788.95" r="7.7" fill="#fff" stroke="#ff0000" stroke-width="2.1"/>
<circle cx="1060.56" cy="788.95" r="7.7" fill="#fff" stroke="#ff0000" stroke-width="2.1"/>
<polyline points="622.8,580.6 631.9,580.6 641.0,578.1 650.2,594.7 659.3,621.8 668.4,644.4 677.5,660.4 686.6,677.0 695.8,706.6 704.9,717.7 714.0,717.7 723.1,708.6 732.2,710.6 741.4,724.2 750.5,733.2 759.6,757.3 768.7,745.8 777.8,747.3 787.0,744.3 796.1,739.2 805.2,759.3 814.3,747.3 823.4,767.4 832.6,746.8 841.7,741.8 850.8,731.7 859.9,727.7 869.0,737.2 878.2,757.3 887.3,785.4 896.4,805.5 905.5,806.0 914.6,789.4 923.8,777.9 932.9,767.4 942.0,790.5 951.1,790.5 960.2,800.5 969.4,794.5 978.5,804.5 987.6,812.5 996.7,814.0 1005.8,823.6 1015.0,835.1 1024.1,833.6 1033.2,845.2 1042.3,843.2 1051.4,855.7 1060.6,844.2" fill="none" stroke="#ff0000" stroke-width="1.8" stroke-linejoin="round" stroke-linecap="round"/>
<circle cx="622.80" cy="580.62" r="8.5" fill="#ff0000"/>
<circle cx="631.92" cy="580.62" r="8.5" fill="#ff0000"/>
<circle cx="641.04" cy="578.11" r="8.5" fill="#ff0000"/>
<circle cx="650.16" cy="594.67" r="8.5" fill="#ff0000"/>
<circle cx="659.28" cy="621.78" r="8.5" fill="#ff0000"/>
<circle cx="668.40" cy="644.37" r="8.5" fill="#ff0000"/>
<circle cx="677.52" cy="660.43" r="8.5" fill="#ff0000"/>
<circle cx="686.64" cy="677.00" r="8.5" fill="#ff0000"/>
<circle cx="695.76" cy="706.62" r="8.5" fill="#ff0000"/>
<circle cx="704.88" cy="717.66" r="8.5" fill="#ff0000"/>
<circle cx="714.00" cy="717.66" r="8.5" fill="#ff0000"/>
<circle cx="723.12" cy="708.63" r="8.5" fill="#ff0000"/>
<circle cx="732.24" cy="710.63" r="8.5" fill="#ff0000"/>
<circle cx="741.36" cy="724.19" r="8.5" fill="#ff0000"/>
<circle cx="750.48" cy="733.22" r="8.5" fill="#ff0000"/>
<circle cx="759.60" cy="757.32" r="8.5" fill="#ff0000"/>
<circle cx="768.72" cy="745.77" r="8.5" fill="#ff0000"/>
<circle cx="777.84" cy="747.28" r="8.5" fill="#ff0000"/>
<circle cx="786.96" cy="744.27" r="8.5" fill="#ff0000"/>
<circle cx="796.08" cy="739.25" r="8.5" fill="#ff0000"/>
<circle cx="805.20" cy="759.33" r="8.5" fill="#ff0000"/>
<circle cx="814.32" cy="747.28" r="8.5" fill="#ff0000"/>
<circle cx="823.44" cy="767.36" r="8.5" fill="#ff0000"/>
<circle cx="832.56" cy="746.78" r="8.5" fill="#ff0000"/>
<circle cx="841.68" cy="741.76" r="8.5" fill="#ff0000"/>
<circle cx="850.80" cy="731.72" r="8.5" fill="#ff0000"/>
<circle cx="859.92" cy="727.70" r="8.5" fill="#ff0000"/>
<circle cx="869.04" cy="737.24" r="8.5" fill="#ff0000"/>
<circle cx="878.16" cy="757.32" r="8.5" fill="#ff0000"/>
<circle cx="887.28" cy="785.43" r="8.5" fill="#ff0000"/>
<circle cx="896.40" cy="805.51" r="8.5" fill="#ff0000"/>
<circle cx="905.52" cy="806.01" r="8.5" fill="#ff0000"/>
<circle cx="914.64" cy="789.45" r="8.5" fill="#ff0000"/>
<circle cx="923.76" cy="777.90" r="8.5" fill="#ff0000"/>
<circle cx="932.88" cy="767.36" r="8.5" fill="#ff0000"/>
<circle cx="942.00" cy="790.45" r="8.5" fill="#ff0000"/>
<circle cx="951.12" cy="790.45" r="8.5" fill="#ff0000"/>
<circle cx="960.24" cy="800.49" r="8.5" fill="#ff0000"/>
<circle cx="969.36" cy="794.47" r="8.5" fill="#ff0000"/>
<circle cx="978.48" cy="804.51" r="8.5" fill="#ff0000"/>
<circle cx="987.60" cy="812.54" r="8.5" fill="#ff0000"/>
<circle cx="996.72" cy="814.05" r="8.5" fill="#ff0000"/>
<circle cx="1005.84" cy="823.58" r="8.5" fill="#ff0000"/>
<circle cx="1014.96" cy="835.13" r="8.5" fill="#ff0000"/>
<circle cx="1024.08" cy="833.62" r="8.5" fill="#ff0000"/>
<circle cx="1033.20" cy="845.17" r="8.5" fill="#ff0000"/>
<circle cx="1042.32" cy="843.16" r="8.5" fill="#ff0000"/>
<circle cx="1051.44" cy="855.71" r="8.5" fill="#ff0000"/>
<circle cx="1060.56" cy="844.17" r="8.5" fill="#ff0000"/>
<text x="857.59" y="665.00" font-size="31.8" fill="#0000c8" textLength="8.93" lengthAdjust="spacingAndGlyphs">(</text>
<rect x="870.31" y="644.60" width="2.60" height="23.90" fill="#0000c8"/>
<rect x="880.82" y="644.60" width="2.50" height="23.90" fill="#0000c8"/>
<text x="885.66" y="665.00" font-size="31.8" fill="#0000c8" textLength="27.04" lengthAdjust="spacingAndGlyphs">c,</text>
<rect x="923.76" y="644.60" width="2.70" height="23.90" fill="#0000c8"/>
<rect x="934.17" y="644.60" width="2.60" height="23.90" fill="#0000c8"/>
<text x="938.86" y="665.00" font-size="31.8" fill="#0000c8" textLength="28.06" lengthAdjust="spacingAndGlyphs">c)</text>
<circle cx="980.3" cy="658.9" r="8.6" fill="none" stroke="#0000c8" stroke-width="1.9"/>
<text x="637.89" y="805.00" font-size="31.8" fill="#ff0000" textLength="8.92" lengthAdjust="spacingAndGlyphs">(</text>
<rect x="651.00" y="784.60" width="2.40" height="23.90" fill="#ff0000"/>
<rect x="660.80" y="784.60" width="2.70" height="23.90" fill="#ff0000"/>
<text x="666.38" y="805.00" font-size="31.8" fill="#ff0000" textLength="28.24" lengthAdjust="spacingAndGlyphs">a,</text>
<rect x="706.00" y="784.60" width="2.50" height="23.90" fill="#ff0000"/>
<rect x="716.10" y="784.60" width="2.30" height="23.90" fill="#ff0000"/>
<text x="721.22" y="805.00" font-size="31.8" fill="#ff0000" textLength="27.46" lengthAdjust="spacingAndGlyphs">c)</text>
<circle cx="763.2" cy="798.6" r="9.5" fill="#ff0000"/>
<text x="639.69" y="841.60" font-size="31.8" fill="#ff0000" textLength="8.96" lengthAdjust="spacingAndGlyphs">(</text>
<rect x="652.44" y="821.20" width="2.61" height="23.90" fill="#ff0000"/>
<rect x="662.98" y="821.20" width="2.51" height="23.90" fill="#ff0000"/>
<text x="667.84" y="841.60" font-size="31.8" fill="#ff0000" textLength="27.11" lengthAdjust="spacingAndGlyphs">c,</text>
<rect x="706.04" y="821.20" width="2.71" height="23.90" fill="#ff0000"/>
<rect x="716.48" y="821.20" width="2.61" height="23.90" fill="#ff0000"/>
<text x="721.19" y="841.60" font-size="31.8" fill="#ff0000" textLength="28.14" lengthAdjust="spacingAndGlyphs">c)</text>
<circle cx="764.3" cy="832.4" r="8.6" fill="none" stroke="#ff0000" stroke-width="1.9"/>
<text x="1100.75" y="488.40" font-size="42" fill="#000" font-weight="bold" textLength="28.18" lengthAdjust="spacingAndGlyphs">d</text>
<clipPath id="cd"><rect x="1200.9" y="526.4" width="227.5" height="351.30000000000007"/></clipPath>
<rect x="1200.9" y="526.4" width="227.5" height="351.30000000000007" fill="none" stroke="#000" stroke-width="1.2"/>
<line x1="1200.90" y1="527.00" x2="1200.90" y2="877.10" stroke="#404040" stroke-width="1.2"/>
<line x1="1200.90" y1="852.62" x2="1205.90" y2="852.62" stroke="#000" stroke-width="1.2"/>
<line x1="1200.90" y1="827.54" x2="1205.90" y2="827.54" stroke="#000" stroke-width="1.2"/>
<line x1="1200.90" y1="802.46" x2="1205.90" y2="802.46" stroke="#000" stroke-width="1.2"/>
<line x1="1200.90" y1="777.38" x2="1205.90" y2="777.38" stroke="#000" stroke-width="1.2"/>
<line x1="1200.90" y1="752.30" x2="1209.90" y2="752.30" stroke="#000" stroke-width="1.2"/>
<line x1="1200.90" y1="727.22" x2="1205.90" y2="727.22" stroke="#000" stroke-width="1.2"/>
<line x1="1200.90" y1="702.14" x2="1205.90" y2="702.14" stroke="#000" stroke-width="1.2"/>
<line x1="1200.90" y1="677.06" x2="1205.90" y2="677.06" stroke="#000" stroke-width="1.2"/>
<line x1="1200.90" y1="651.98" x2="1205.90" y2="651.98" stroke="#000" stroke-width="1.2"/>
<line x1="1200.90" y1="626.90" x2="1209.90" y2="626.90" stroke="#000" stroke-width="1.2"/>
<line x1="1200.90" y1="601.82" x2="1205.90" y2="601.82" stroke="#000" stroke-width="1.2"/>
<line x1="1200.90" y1="576.74" x2="1205.90" y2="576.74" stroke="#000" stroke-width="1.2"/>
<line x1="1200.90" y1="551.66" x2="1205.90" y2="551.66" stroke="#000" stroke-width="1.2"/>
<line x1="1314.10" y1="877.70" x2="1314.10" y2="869.10" stroke="#000" stroke-width="1.2"/>
<circle cx="1205.0" cy="875.8" r="5.7" fill="#000"/>
<circle cx="1209.3" cy="875.3" r="5.7" fill="#000"/>
<circle cx="1213.6" cy="876.8" r="5.7" fill="#000"/>
<circle cx="1217.9" cy="875.0" r="5.7" fill="#000"/>
<circle cx="1222.2" cy="876.4" r="5.7" fill="#000"/>
<circle cx="1226.5" cy="875.9" r="5.7" fill="#000"/>
<circle cx="1230.8" cy="875.0" r="5.7" fill="#000"/>
<circle cx="1235.1" cy="876.3" r="5.7" fill="#000"/>
<circle cx="1239.4" cy="874.9" r="5.7" fill="#000"/>
<circle cx="1243.7" cy="876.1" r="5.7" fill="#000"/>
<circle cx="1248.0" cy="875.0" r="5.7" fill="#000"/>
<circle cx="1252.3" cy="875.1" r="5.7" fill="#000"/>
<circle cx="1256.6" cy="876.1" r="5.7" fill="#000"/>
<circle cx="1260.9" cy="877.3" r="5.7" fill="#000"/>
<circle cx="1258.0" cy="871.5" r="5.7" fill="#000"/>
<circle cx="1261.2" cy="869.7" r="5.7" fill="#000"/>
<circle cx="1265.0" cy="868.0" r="5.7" fill="#000"/>
<circle cx="1269.6" cy="866.0" r="5.7" fill="#000"/>
<circle cx="1269.7" cy="859.6" r="5.7" fill="#000"/>
<circle cx="1271.4" cy="854.8" r="5.7" fill="#000"/>
<circle cx="1272.4" cy="847.3" r="5.7" fill="#000"/>
<circle cx="1274.1" cy="844.0" r="5.7" fill="#000"/>
<circle cx="1275.2" cy="838.0" r="5.7" fill="#000"/>
<circle cx="1276.3" cy="830.2" r="5.7" fill="#000"/>
<circle cx="1277.0" cy="823.1" r="5.7" fill="#000"/>
<circle cx="1278.5" cy="816.1" r="5.7" fill="#000"/>
<circle cx="1278.0" cy="811.9" r="5.7" fill="#000"/>
<circle cx="1279.6" cy="806.1" r="5.7" fill="#000"/>
<circle cx="1279.8" cy="801.6" r="5.7" fill="#000"/>
<circle cx="1284.5" cy="797.0" r="5.7" fill="#000"/>
<circle cx="1285.4" cy="783.9" r="5.7" fill="#000"/>
<circle cx="1287.3" cy="780.2" r="5.7" fill="#000"/>
<circle cx="1290.1" cy="764.3" r="5.7" fill="#000"/>
<circle cx="1291.0" cy="759.7" r="5.7" fill="#000"/>
<circle cx="1292.0" cy="734.5" r="5.7" fill="#000"/>
<circle cx="1292.9" cy="728.0" r="5.7" fill="#000"/>
<circle cx="1293.8" cy="701.9" r="5.7" fill="#000"/>
<circle cx="1294.5" cy="699.9" r="5.7" fill="#000"/>
<circle cx="1295.4" cy="690.6" r="5.7" fill="#000"/>
<circle cx="1297.0" cy="680.0" r="5.7" fill="#000"/>
<circle cx="1299.1" cy="666.4" r="5.7" fill="#000"/>
<circle cx="1300.1" cy="655.2" r="5.7" fill="#000"/>
<circle cx="1301.9" cy="649.6" r="5.7" fill="#000"/>
<circle cx="1303.0" cy="638.0" r="5.7" fill="#000"/>
<circle cx="1304.7" cy="623.5" r="5.7" fill="#000"/>
<circle cx="1306.6" cy="617.9" r="5.7" fill="#000"/>
<circle cx="1310.0" cy="616.0" r="5.7" fill="#000"/>
<circle cx="1313.1" cy="614.2" r="5.7" fill="#000"/>
<circle cx="1316.0" cy="610.0" r="5.7" fill="#000"/>
<circle cx="1318.7" cy="607.7" r="5.7" fill="#000"/>
<circle cx="1321.0" cy="612.0" r="5.7" fill="#000"/>
<circle cx="1323.4" cy="616.1" r="5.7" fill="#000"/>
<circle cx="1326.0" cy="622.0" r="5.7" fill="#000"/>
<circle cx="1328.0" cy="629.1" r="5.7" fill="#000"/>
<circle cx="1331.7" cy="636.6" r="5.7" fill="#000"/>
<circle cx="1329.9" cy="653.4" r="5.7" fill="#000"/>
<circle cx="1334.5" cy="664.5" r="5.7" fill="#000"/>
<circle cx="1332.7" cy="675.7" r="5.7" fill="#000"/>
<circle cx="1335.0" cy="687.0" r="5.7" fill="#000"/>
<circle cx="1336.4" cy="698.1" r="5.7" fill="#000"/>
<circle cx="1338.3" cy="707.4" r="5.7" fill="#000"/>
<circle cx="1339.2" cy="716.7" r="5.7" fill="#000"/>
<circle cx="1341.0" cy="725.0" r="5.7" fill="#000"/>
<circle cx="1343.8" cy="733.5" r="5.7" fill="#000"/>
<circle cx="1345.7" cy="740.9" r="5.7" fill="#000"/>
<circle cx="1347.3" cy="762.9" r="5.7" fill="#000"/>
<circle cx="1349.4" cy="763.3" r="5.7" fill="#000"/>
<circle cx="1351.7" cy="768.8" r="5.7" fill="#000"/>
<circle cx="1354.7" cy="768.8" r="5.7" fill="#000"/>
<circle cx="1356.9" cy="765.1" r="5.7" fill="#000"/>
<circle cx="1357.6" cy="801.4" r="5.7" fill="#000"/>
<circle cx="1358.4" cy="804.7" r="5.7" fill="#000"/>
<circle cx="1360.6" cy="810.3" r="5.7" fill="#000"/>
<circle cx="1361.7" cy="817.1" r="5.7" fill="#000"/>
<circle cx="1363.5" cy="822.1" r="5.7" fill="#000"/>
<circle cx="1364.4" cy="826.8" r="5.7" fill="#000"/>
<circle cx="1366.5" cy="831.0" r="5.7" fill="#000"/>
<circle cx="1368.5" cy="834.0" r="5.7" fill="#000"/>
<circle cx="1371.0" cy="837.0" r="5.7" fill="#000"/>
<circle cx="1372.7" cy="841.0" r="5.7" fill="#000"/>
<circle cx="1373.9" cy="845.8" r="5.7" fill="#000"/>
<circle cx="1375.5" cy="848.9" r="5.7" fill="#000"/>
<circle cx="1376.9" cy="854.7" r="5.7" fill="#000"/>
<circle cx="1379.8" cy="857.7" r="5.7" fill="#000"/>
<circle cx="1382.0" cy="859.0" r="5.7" fill="#000"/>
<circle cx="1384.3" cy="860.6" r="5.7" fill="#000"/>
<circle cx="1386.5" cy="862.0" r="5.7" fill="#000"/>
<circle cx="1388.7" cy="863.6" r="5.7" fill="#000"/>
<circle cx="1391.0" cy="864.0" r="5.7" fill="#000"/>
<circle cx="1393.2" cy="865.1" r="5.7" fill="#000"/>
<circle cx="1396.1" cy="869.5" r="5.7" fill="#000"/>
<circle cx="1399.0" cy="869.0" r="5.7" fill="#000"/>
<circle cx="1402.0" cy="869.5" r="5.7" fill="#000"/>
<circle cx="1405.0" cy="869.0" r="5.7" fill="#000"/>
<circle cx="1408.0" cy="869.5" r="5.7" fill="#000"/>
<circle cx="1410.9" cy="872.5" r="5.7" fill="#000"/>
<polyline points="1201.0,876.4 1202.3,877.0 1203.6,877.0 1204.9,875.4 1206.2,874.9 1207.5,876.1 1208.8,875.8 1210.1,877.5 1211.4,877.1 1212.7,876.8 1214.0,876.7 1215.3,877.0 1216.6,875.4 1217.9,876.3 1219.2,875.4 1220.5,877.8 1221.8,875.1 1223.1,877.5 1224.4,875.1 1225.7,877.1 1227.0,876.0 1228.3,876.2 1229.6,877.6 1230.9,875.0 1232.2,875.1 1233.5,877.8 1234.8,876.5 1236.1,875.2 1237.4,878.1 1238.7,877.9 1240.0,875.3 1241.3,876.3 1242.6,875.3 1243.9,875.9" fill="none" stroke="#008000" stroke-width="1.3" stroke-linejoin="round" stroke-linecap="round"/>
<polyline points="1242.1,876.9 1248.0,876.0 1255.6,871.6 1263.1,867.8 1267.7,862.2 1270.5,849.2 1273.3,830.5 1277.0,815.6 1281.7,798.8 1286.4,783.9 1290.1,755.9 1293.8,728.0 1296.5,708.0 1298.5,702.0 1300.1,686.9 1301.9,670.1 1303.8,651.5 1305.6,629.1 1308.1,613.3 1310.3,625.4 1313.1,640.3 1315.9,627.3 1318.7,623.5 1321.5,629.1 1324.3,627.3 1327.1,634.7 1329.9,651.5 1332.7,672.0 1334.5,686.9 1336.4,701.8 1338.3,716.7 1340.1,731.6 1342.0,748.4 1344.3,768.8 1345.8,782.2 1350.2,788.1 1353.2,798.4 1357.6,813.3 1360.6,831.0 1363.5,848.8 1366.5,857.7 1372.4,866.6 1378.4,872.5 1387.2,875.4 1396.1,876.9 1410.9,875.4" fill="none" stroke="#008000" stroke-width="4.5" stroke-linejoin="round" stroke-linecap="round"/>
<text x="1173.78" y="635.40" font-size="26" fill="#000" textLength="12.03" lengthAdjust="spacingAndGlyphs">1</text>
<text x="1150.05" y="761.00" font-size="26" fill="#000" textLength="39.90" lengthAdjust="spacingAndGlyphs">0.5</text>
<text x="1172.87" y="887.10" font-size="26" fill="#000" textLength="15.69" lengthAdjust="spacingAndGlyphs">0</text>
<text x="1296.01" y="910.50" font-size="26" fill="#000" textLength="38.82" lengthAdjust="spacingAndGlyphs">1.5</text>
<text x="1191.15" y="951.90" font-size="26.6" fill="#000" textLength="246.72" lengthAdjust="spacingAndGlyphs">Photon Energy (eV)</text>
<text x="0" y="0" transform="translate(1125.40,836.02) rotate(-90)" font-size="28" fill="#000" textLength="268.03" lengthAdjust="spacingAndGlyphs">Intensity (normalized)</text>
<line x1="1267.70" y1="543.30" x2="1332.00" y2="543.30" stroke="#008000" stroke-width="3.3"/>
<text x="1343.07" y="553.60" font-size="28" fill="#000" textLength="42.84" lengthAdjust="spacingAndGlyphs">6 K</text>
<circle cx="1303" cy="582.6" r="8.7" fill="#000"/>
<text x="1343.07" y="591.40" font-size="28" fill="#000" textLength="58.98" lengthAdjust="spacingAndGlyphs">60 K</text>
<text x="1344.01" y="620.80" font-size="28" fill="#000" textLength="71.91" lengthAdjust="spacingAndGlyphs">(x2.2)</text>
</svg>
</body></html>
